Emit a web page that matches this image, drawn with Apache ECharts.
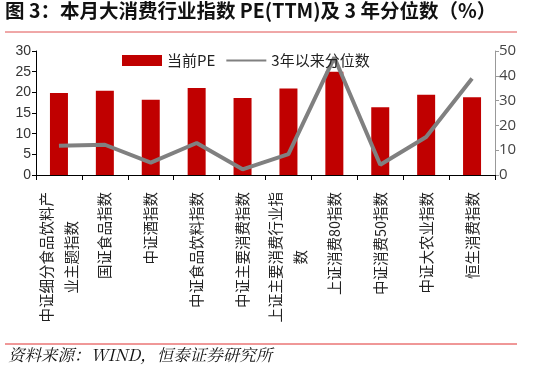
<!DOCTYPE html>
<html><head><meta charset="utf-8">
<script src="https://cdn.jsdelivr.net/npm/echarts@6/dist/echarts.min.js"></script>
<style>html,body{margin:0;padding:0;background:#fff}#c{width:540px;height:375px}</style>
</head><body><div id="c"></div>
<script>
var categories = ['中证细分食品饮料产\n业主题指数','国证食品指数','中证酒指数','中证食品饮料指数','中证主要消费指数','上证主要消费行业指\n数','上证消费80指数','中证消费50指数','中证大农业指数','恒生消费指数'];
var peValues = [19.85, 20.4, 18.2, 21.05, 18.6, 20.9, 25.0, 16.4, 19.4, 18.8];
var pctValues = [11.8, 12.2, 5.0, 12.9, 2.3, 8.4, 47.4, 4.1, 15.3, 38.9];
var seriesNames = ['当前PE', '3年以来分位数'];
var titleText = '图 3：本月大消费行业指数 PE(TTM)及 3 年分位数（%）';
var sourceText = '资料来源：WIND，恒泰证券研究所';

var chart = echarts.init(document.getElementById('c'));
var cjk = '"Noto Sans CJK SC", "Noto Sans", sans-serif';
chart.setOption({
  animation: false,
  graphic: [
    {type:'text', left: 5, top: 1, style:{text: titleText, font: 'bold 19.5px ' + cjk, fill:'#111'}},
    {type:'line', shape:{x1:5,y1:32,x2:517,y2:32}, style:{stroke:'#e05050', lineWidth:1}},
    {type:'line', shape:{x1:5,y1:344,x2:517,y2:344}, style:{stroke:'#e03030', lineWidth:1}},
    {type:'text', left: 8, top: 346, style:{text: sourceText, font: 'italic 16.5px "Noto Serif CJK SC", ' + cjk, fill:'#111'}}
  ],
  legend: {
    left: 117, top: 48, itemWidth: 40, itemHeight: 11, itemGap: 10,
    textStyle: {fontSize: 15, color:'#222', fontFamily: cjk},
    data: [{name: seriesNames[0], icon:'rect'}, {name: seriesNames[1], itemStyle:{opacity:0}}]
  },
  grid: {left: 36, right: 45, top: 51, bottom: 200, containLabel: false},
  xAxis: {
    type: 'category', data: categories,
    axisLine: {lineStyle:{color:'#000', width:1}},
    axisTick: {show:true, alignWithLabel:false, length:5, lineStyle:{color:'#000'}},
    axisLabel: {
      interval: 0, rotate: 90, margin: 17,
      formatter: function(v){
        return v.split('\n').map(function(s){return '{c|' + s + '}';}).join('\n');
      },
      rich: {c: {align:'center', fontSize: 14.5, lineHeight: 25, fontFamily: cjk, color:'#222'}}
    }
  },
  yAxis: [
    {type:'value', min:0, max:30, interval:5,
     axisLine:{show:true, lineStyle:{color:'#000'}},
     axisTick:{show:true, length:4, lineStyle:{color:'#000'}},
     splitLine:{show:false},
     axisLabel:{fontSize:14, color:'#333', margin:5, fontFamily:'"Liberation Sans", Arial, sans-serif'}},
    {type:'value', min:0, max:50, interval:10,
     axisLine:{show:true, lineStyle:{color:'#999'}},
     axisTick:{show:true, length:4, lineStyle:{color:'#999'}},
     splitLine:{show:false},
     axisLabel:{fontSize:15, color:'#444', margin:4, fontFamily:'"Open Sans", "Noto Sans", sans-serif'}}
  ],
  series: [
    {name: seriesNames[0], type:'bar', data: peValues, barWidth: 18, itemStyle:{color:'#c00000'}, yAxisIndex:0},
    {name: seriesNames[1], type:'line', data: pctValues, yAxisIndex:1, symbol:'none',
     lineStyle:{color:'#808080', width:4}, itemStyle:{color:'#808080'}}
  ]
});
</script></body></html>
